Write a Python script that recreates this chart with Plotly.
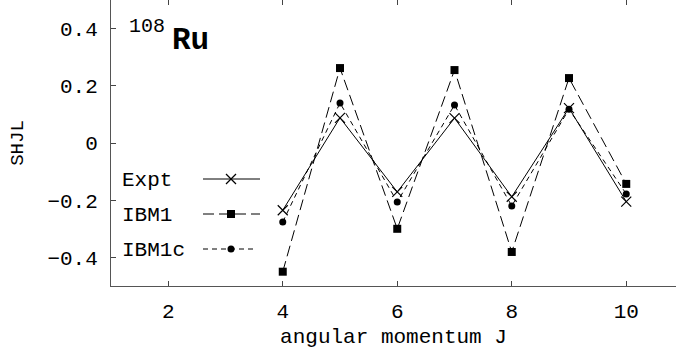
import plotly.graph_objects as go

J = [4, 5, 6, 7, 8, 9, 10]
expt = [-0.235, 0.088, -0.171, 0.087, -0.188, 0.122, -0.205]
ibm1 = [-0.450, 0.262, -0.300, 0.255, -0.381, 0.227, -0.143]
ibm1c = [-0.276, 0.140, -0.206, 0.133, -0.220, 0.118, -0.178]

x_ticks = [2, 4, 6, 8, 10]
y_ticks = [-0.4, -0.2, 0, 0.2, 0.4]
y_tick_text = ["\u22120.4", "\u22120.2", "0", "0.2", "0.4"]

FONT = "Liberation Mono, Courier New, monospace"

fig = go.Figure()
fig.add_trace(go.Scatter(x=J, y=expt, mode="lines+markers", name="Expt",
                         line=dict(color="black", width=1),
                         marker=dict(symbol="x-thin", size=10, color="black",
                                     line=dict(width=1.2, color="black"))))
fig.add_trace(go.Scatter(x=J, y=ibm1, mode="lines+markers", name="IBM1",
                         line=dict(color="black", width=1, dash="11px,5px"),
                         marker=dict(symbol="square", size=8, color="black")))
fig.add_trace(go.Scatter(x=J, y=ibm1c, mode="lines+markers", name="IBM1c",
                         line=dict(color="black", width=1, dash="5px,4px"),
                         marker=dict(symbol="circle", size=7, color="black")))

W, H = 676, 359
L, B = 111, 73
pw, ph = W - L, H - B


def px(xp):
    return (xp - L) / pw


def py(yp):
    return (H - B - yp) / ph


shapes = []
annotations = []
legend = [("Expt", 180, None, "x"), ("IBM1", 215, "11px,5px", "square"),
          ("IBM1c", 250, "5px,4px", "circle")]
for name, yc, dash, sym in legend:
    annotations.append(dict(x=px(120), y=py(yc), xref="paper", yref="paper",
                            text=name, showarrow=False, xanchor="left", yanchor="middle",
                            font=dict(family=FONT, size=21, color="black")))
    x_end = 260 if sym != "circle" else 256
    shapes.append(dict(type="line", xref="paper", yref="paper",
                       x0=px(203), x1=px(x_end), y0=py(yc - 1), y1=py(yc - 1),
                       line=dict(color="black", width=1, dash=dash or "solid")))
    cx, cy = 231, yc - 1
    if sym == "x":
        for d in (1, -1):
            shapes.append(dict(type="line", xref="paper", yref="paper",
                               x0=px(cx - 5), x1=px(cx + 5), y0=py(cy - 5 * d), y1=py(cy + 5 * d),
                               line=dict(color="black", width=1.2)))
    elif sym == "square":
        shapes.append(dict(type="rect", xref="paper", yref="paper",
                           x0=px(cx - 4), x1=px(cx + 4), y0=py(cy - 4), y1=py(cy + 4),
                           fillcolor="black", line=dict(width=0)))
    else:
        shapes.append(dict(type="circle", xref="paper", yref="paper",
                           x0=px(cx - 3.5), x1=px(cx + 3.5), y0=py(cy - 3.5), y1=py(cy + 3.5),
                           fillcolor="black", line=dict(width=0)))

# nucleus label
annotations.append(dict(x=px(127), y=py(26), xref="paper", yref="paper", text="108",
                        showarrow=False, xanchor="left", yanchor="middle",
                        font=dict(family=FONT, size=20, color="black")))
annotations.append(dict(x=px(170), y=py(40), xref="paper", yref="paper", text="<b>Ru</b>",
                        showarrow=False, xanchor="left", yanchor="middle",
                        font=dict(family=FONT, size=31, color="black")))

fig.update_layout(
    width=W, height=H,
    margin=dict(l=L, r=0, t=0, b=B),
    paper_bgcolor="white", plot_bgcolor="white",
    showlegend=False,
    font=dict(family=FONT, size=21, color="black"),
    shapes=shapes, annotations=annotations,
)
fig.update_xaxes(range=[1, 1 + 10 * pw / 572.5], tickvals=x_ticks, ticks="inside", ticklen=5,
                 showline=True, linecolor="#555", linewidth=1, mirror="ticks",
                 showgrid=False, zeroline=False, automargin=False, ticklabelstandoff=6,
                 title=dict(text="angular momentum J", standoff=5,
                            font=dict(family=FONT, size=21)))
fig.update_yaxes(range=[-0.5, 0.5], tickvals=y_ticks, ticktext=y_tick_text, ticks="inside",
                 ticklen=5, showline=True, linecolor="#555", linewidth=1,
                 showgrid=False, zeroline=False, automargin=False, ticklabelstandoff=8,
                 title=dict(text="SHJL", standoff=18, font=dict(family=FONT, size=19)))

# drop the browser's default page margin so the figure sits at the window origin
fig.write_html("out.html", config={"displayModeBar": False},
               post_script="document.body.style.margin='0';")
